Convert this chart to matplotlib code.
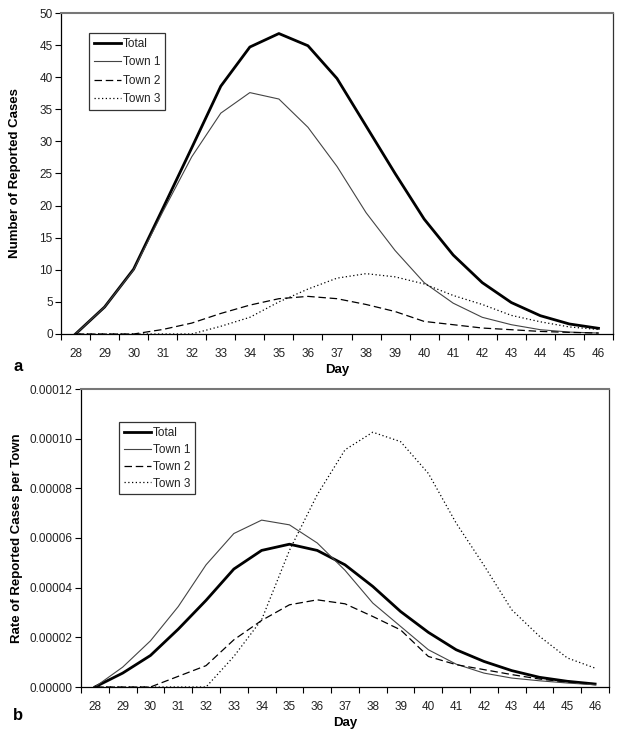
import matplotlib
matplotlib.use("Agg")
import matplotlib.pyplot as plt
import numpy as np

plt.rcParams['font.family'] = ['Liberation Sans', 'DejaVu Sans']

days = list(range(28, 47))

# Panel a: number of reported cases
total_cases = [0, 4.2, 10.1, 19.5, 29.0, 38.6, 44.7, 46.8, 44.9, 39.8, 32.4, 25.0, 17.9, 12.3, 8.0, 4.9, 2.85, 1.56, 0.89]
town1_cases = [0, 4.2, 10.0, 19.0, 27.6, 34.4, 37.6, 36.6, 32.2, 26.1, 18.9, 13.0, 8.0, 4.8, 2.6, 1.45, 0.67, 0.3, 0.15]
town2_cases = [0, 0, 0, 0.7, 1.7, 3.2, 4.5, 5.5, 5.86, 5.5, 4.6, 3.5, 1.96, 1.45, 0.93, 0.67, 0.4, 0.25, 0.15]
town3_cases = [0, 0, 0, 0, 0, 1.2, 2.6, 5.0, 7.0, 8.7, 9.4, 8.9, 7.8, 6.0, 4.6, 2.9, 1.9, 1.1, 0.7]

# Panel b: rate of reported cases per town (in units of 1e-5)
total_rate = [0, 0.56, 1.27, 2.33, 3.49, 4.75, 5.5, 5.75, 5.5, 4.92, 4.05, 3.04, 2.2, 1.5, 1.03, 0.66, 0.39, 0.23, 0.12]
town1_rate = [0, 0.8, 1.86, 3.24, 4.92, 6.18, 6.72, 6.53, 5.8, 4.7, 3.38, 2.44, 1.5, 0.92, 0.56, 0.36, 0.25, 0.16, 0.09]
town2_rate = [0, 0, 0, 0.43, 0.86, 1.9, 2.68, 3.31, 3.51, 3.35, 2.84, 2.3, 1.23, 0.9, 0.7, 0.5, 0.32, 0.2, 0.13]
town3_rate = [0, 0, 0, 0, 0, 1.23, 2.71, 5.5, 7.74, 9.55, 10.26, 9.88, 8.6, 6.6, 4.9, 3.11, 2.04, 1.17, 0.76]
rate_unit = 1e-5

series_labels = ["Total", "Town 1", "Town 2", "Town 3"]

W, H = 624, 732
fig = plt.figure(figsize=(W / 100, H / 100), dpi=100)

def px_axes(l, t, r, b):
    return fig.add_axes([l / W, 1 - b / H, (r - l) / W, (b - t) / H])

ax1 = px_axes(61, 13, 613, 334)
ax2 = px_axes(81, 389, 609, 687)

styles = [
    dict(color='black', lw=2.0, ls='-'),
    dict(color='#444444', lw=0.8, ls='-'),
    dict(color='black', lw=0.9, ls=(0, (6, 3))),
    dict(color='black', lw=0.9, ls=(0, (1, 2))),
]

def style_axes(ax, yticks, fmt):
    ax.set_xlim(27.5, 46.5)
    ax.set_xticks(np.arange(27.5, 47.0, 1.0))
    ax.set_xticklabels([])
    ax.set_xticks(days, minor=True)
    ax.set_xticklabels([str(d) for d in days], minor=True, fontsize=8.5, color='#222222')
    ax.tick_params(axis='x', which='major', direction='out', length=4, width=0.8)
    ax.tick_params(axis='x', which='minor', length=0, pad=10)
    ax.set_yticks(yticks)
    ax.set_yticklabels([fmt(v) for v in yticks], fontsize=8.5, color='#222222')
    ax.tick_params(axis='y', direction='out', length=4, width=0.8, pad=2)
    ax.set_ylim(yticks[0], yticks[-1])
    ax.spines['top'].set_color('#777777')
    ax.spines['top'].set_linewidth(1.5)
    ax.spines['right'].set_color('#333333')
    ax.spines['right'].set_linewidth(0.9)
    ax.spines['left'].set_linewidth(0.9)
    ax.spines['bottom'].set_linewidth(0.9)
    ax.set_xlabel("Day", fontsize=9.5, fontweight='bold', labelpad=3)

for vals, st, lab in zip([total_cases, town1_cases, town2_cases, town3_cases], styles, series_labels):
    ax1.plot(days, vals, label=lab, **st)
style_axes(ax1, list(range(0, 51, 5)), lambda v: f"{v:d}")
ax1.set_ylabel("Number of Reported Cases", fontsize=9.5, fontweight='bold')
ax1.yaxis.set_label_coords(-0.072, 0.5)

for vals, st, lab in zip([total_rate, town1_rate, town2_rate, town3_rate], styles, series_labels):
    ax2.plot(days, [v * rate_unit for v in vals], label=lab, **st)
style_axes(ax2, [0, 0.00002, 0.00004, 0.00006, 0.00008, 0.00010, 0.00012], lambda v: f"{v:.5f}")
ax2.set_ylabel("Rate of Reported Cases per Town", fontsize=9.5, fontweight='bold')
ax2.yaxis.set_label_coords(-0.11, 0.5)

def add_legend(ax, l, t, spacing):
    pos = ax.get_position()
    x = (l / W - pos.x0) / pos.width
    y = ((1 - t / H) - pos.y0) / pos.height
    leg = ax.legend(loc='upper left', bbox_to_anchor=(x, y), fontsize=8.5,
                    frameon=True, fancybox=False, edgecolor='black',
                    handlelength=2.3, handletextpad=0.2, borderpad=0.4,
                    labelspacing=spacing, borderaxespad=0)
    leg.get_frame().set_linewidth(0.9)
    for t_ in leg.get_texts():
        t_.set_color('#222222')

add_legend(ax1, 89, 33, 0.55)
add_legend(ax2, 119, 422, 0.42)

fig.text(18 / W, 1 - 367 / H, "a", fontsize=12, fontweight='bold', ha='center', va='center')
fig.text(18 / W, 1 - 716 / H, "b", fontsize=12, fontweight='bold', ha='center', va='center')

fig.savefig("out.png", dpi=100)
